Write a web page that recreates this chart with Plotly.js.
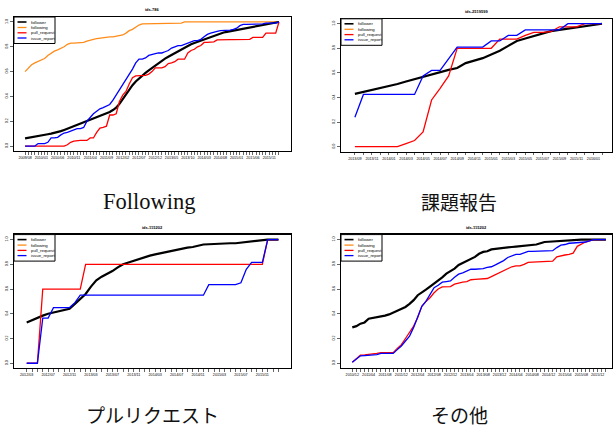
<!DOCTYPE html>
<html><head><meta charset="utf-8">
<script src="https://cdn.plot.ly/plotly-3.0.1.min.js"></script>
<style>html,body{margin:0;padding:0;background:#fff}#chart{width:613px;height:429px}</style>
</head><body><div id="chart"></div>
<script>
// month categories (axis positions only)
function monthSeq(y, m, n) {
  const out = [];
  for (let i = 0; i < n; i++) {
    out.push(y + '/' + (m < 10 ? '0' + m : '' + m));
    m++; if (m > 12) { m = 1; y++; }
  }
  return out;
}
const months1 = monthSeq(2009, 8, 79);   // 2009/08 .. 2016/02
const months2 = monthSeq(2013, 9, 30);   // 2013/09 .. 2016/02
const months3 = monthSeq(2012, 3, 48);   // 2012/03 .. 2016/02
const months4 = monthSeq(2010, 12, 63);  // 2010/12 .. 2016/02

const titles = ['ids-786', 'ids-2519599', 'ids-115202', 'ids-115202'];
const captions = ['Following', '課題報告', 'プルリクエスト', 'その他'];
const seriesNames = ['follower', 'following', 'pull_request', 'issue_report'];
const yTickVals = [0, 0.2, 0.4, 0.6, 0.8, 1.0];
const yTickText = ['0.0', '0.2', '0.4', '0.6', '0.8', '1.0'];

// Panel 1
const follower1 = [.062,.066,.070,.075,.080,.086,.090,.095,.100,.105,
.110,.120,.130,.140,.150,.160,.170,.180,.190,.200,
.210,.220,.230,.240,.250,.260,.275,.290,.310,.340,
.380,.420,.460,.490,.520,.545,.570,.590,.610,.630,
.650,.670,.690,.705,.720,.735,.750,.765,.780,.795,
.810,.820,.830,.840,.850,.860,.870,.880,.890,.900,
.910,.915,.920,.925,.930,.940,.945,.950,.955,.958,
.960,.965,.970,.975,.980,.985,.990,.995,1.0];
const following1 = [.60,.63,.655,.67,.68,.69,.705,.73,.75,.765,
.775,.785,.80,.82,.83,.83,.83,.835,.835,.845,
.855,.86,.865,.87,.87,.875,.88,.88,.885,.89,
.895,.91,.93,.94,.96,.975,.985,.985,.985,.985,
.985,.985,.985,.985,.985,.985,.985,.985,.99,1,
1,1,1,1,1,1,1,1,1,1,
1,1,1,1,1,1,1,1,1,1,
1,1,1,1,1,1,1,1,1];
const pull1 = [0,0,0,0,0,0,0,0,0,0,
0,0,0,.01,.03,.04,.045,.045,.045,.045,
.065,.065,.11,.145,.15,.16,.25,.25,.26,.36,
.41,.44,.50,.55,.565,.565,.57,.57,.58,.60,
.63,.63,.63,.64,.665,.67,.68,.70,.70,.70,
.75,.77,.78,.80,.81,.835,.835,.835,.84,.855,
.857,.857,.857,.857,.857,.857,.857,.857,.857,.86,
.876,.876,.876,.876,.91,.91,.91,.91,1];
const issue1 = [0,0,0,0,.02,.02,.02,.03,.065,.065,
.07,.09,.105,.11,.12,.13,.14,.14,.15,.20,
.23,.26,.28,.30,.31,.32,.335,.37,.41,.46,
.49,.53,.57,.62,.67,.70,.70,.71,.73,.74,
.745,.75,.75,.76,.77,.79,.80,.81,.81,.82,
.83,.845,.85,.85,.86,.88,.90,.91,.92,.925,
.93,.93,.93,.935,.94,.95,.97,.98,.98,.98,
.98,.985,.985,.985,.99,.99,.99,.99,1];

// Panel 2
const follower2 = [.43,.445,.46,.48,.495,.51,.53,.55,.57,.59,
.61,.625,.64,.68,.70,.72,.75,.78,.82,.86,
.88,.90,.92,.94,.95,.96,.975,.985,.995,1.0];
const pull2 = [0,0,0,0,0,0,.025,.05,.12,.38,
.475,.575,.80,.80,.80,.80,.80,.875,.875,.875,
.905,.93,.93,.935,.975,.975,.975,1,1,1];
const issue2 = [.24,.425,.425,.425,.425,.425,.425,.425,.575,.62,
.62,.72,.81,.81,.81,.81,.86,.86,.905,.905,
.95,.95,.95,.95,.95,1,1,1,1,1];

// Panel 3
const follower3 = [.33,.35,.37,.385,.40,.41,.42,.43,.44,.48,
.52,.56,.62,.67,.70,.72,.745,.775,.80,.815,
.83,.845,.86,.87,.88,.89,.90,.91,.92,.925,
.935,.94,.95,.96,.962,.965,.965,.967,.97,.97,
.975,.985,.99,.995,1,1,1,1];
const pull3 = [0,0,0,.60,.60,.60,.60,.60,.60,.60,
.60,.80,.80,.80,.80,.80,.80,.80,.80,.80,
.80,.80,.80,.80,.80,.80,.80,.80,.80,.80,
.80,.80,.80,.80,.80,.80,.80,.80,.80,.80,
.80,.80,.80,.80,.80,1,1,1];
const issue3 = [0,0,0,.365,.365,.45,.45,.45,.45,.49,
.55,.55,.55,.55,.55,.55,.55,.55,.55,.55,
.55,.55,.55,.55,.55,.55,.55,.55,.55,.55,
.55,.55,.55,.55,.635,.635,.635,.635,.635,.635,
.65,.76,.815,.815,.815,1,1,1];

// Panel 4
const follower4 = [.29,.30,.32,.33,.36,.365,.375,.38,.385,.395,
.41,.43,.44,.455,.48,.51,.55,.57,.595,.62,
.645,.665,.695,.725,.745,.765,.795,.81,.825,.845,
.86,.885,.90,.905,.92,.925,.93,.933,.936,.94,
.943,.946,.95,.955,.957,.96,.97,.98,.982,.985,
.988,.99,.992,.995,.997,1,1,1,1,1,
1,1,1];
const pull4 = [.008,.04,.065,.068,.07,.075,.08,.085,.085,.085,
.085,.12,.15,.20,.25,.30,.37,.46,.50,.53,
.57,.60,.617,.617,.62,.64,.65,.655,.66,.675,
.678,.68,.682,.685,.70,.715,.73,.75,.765,.78,
.787,.787,.80,.815,.818,.82,.82,.822,.823,.825,
.86,.87,.875,.88,.89,.945,.965,.98,.99,1,
1,1,1];
const issue4 = [.008,.035,.06,.062,.064,.065,.07,.08,.08,.08,
.08,.11,.14,.18,.22,.29,.37,.46,.50,.55,
.61,.63,.655,.66,.665,.695,.72,.73,.745,.76,
.76,.762,.765,.775,.78,.795,.81,.83,.855,.87,
.88,.88,.89,.905,.905,.906,.907,.908,.909,.91,
.935,.955,.96,.97,.972,.975,.977,.98,.99,1,
1,1,1];

const COLORS = {follower: '#000000', following: '#FF8C1A', pull_request: '#FF0000', issue_report: '#0000FF'};
const W = 613, H = 429;
const px = v => v / W, py = v => 1 - v / H;

function tr(x, y, name, ax) {
  return {type: 'scatter', mode: 'lines', x: x, y: y, name: name,
    xaxis: 'x' + ax, yaxis: 'y' + ax, showlegend: false,
    line: {color: COLORS[name], width: name === 'follower' ? 2.2 : 1.3}};
}
const data = [
  tr(months1, following1, 'following', ''),
  tr(months1, follower1, 'follower', ''),
  tr(months1, pull1, 'pull_request', ''),
  tr(months1, issue1, 'issue_report', ''),
  tr(months2, follower2, 'follower', '2'),
  tr(months2, pull2, 'pull_request', '2'),
  tr(months2, issue2, 'issue_report', '2'),
  tr(months3, follower3, 'follower', '3'),
  tr(months3, pull3, 'pull_request', '3'),
  tr(months3, issue3, 'issue_report', '3'),
  tr(months4, follower4, 'follower', '4'),
  tr(months4, pull4, 'pull_request', '4'),
  tr(months4, issue4, 'issue_report', '4')
];

// plot boxes in pixels [left, top, right, bottom]
const boxes = [[14, 17, 291, 151], [341, 18.8, 612, 151.6], [14, 234.6, 291, 368.2], [341, 234.6, 612, 368.2]];
const monthSets = [months1, months2, months3, months4];
const labelStep = [5, 2, 4, 4];
const xRanges = [[-3.4, 81.7], [-1.63, 30.17], [-2.37, 49.35], [-2.76, 63.5]];

const tickFont = {family: 'Liberation Sans, Arial, sans-serif', size: 3.7, color: '#000'};
const layout = {
  width: W, height: H, autosize: false,
  margin: {l: 0, r: 0, t: 0, b: 0},
  paper_bgcolor: '#fff', plot_bgcolor: '#fff',
  showlegend: false, shapes: [], annotations: []
};
boxes.forEach((b, i) => {
  const s = i === 0 ? '' : String(i + 1);
  const ms = monthSets[i];
  layout['xaxis' + s] = {
    type: 'category', domain: [px(b[0]), px(b[2])], anchor: 'y' + s,
    range: xRanges[i], tickmode: 'array', tickvals: ms,
    ticktext: ms.map((m, k) => k % labelStep[i] === 0 ? m : ''),
    ticks: 'outside', ticklen: 2.5, tickwidth: 0.6, tickcolor: '#000',
    tickangle: 0, tickfont: tickFont, showgrid: false, zeroline: false,
    showline: true, mirror: true, linecolor: '#000', linewidth: 1.2, fixedrange: true
  };
  layout['yaxis' + s] = {
    domain: [py(b[3]), py(b[1])], anchor: 'x' + s, range: [-0.04, 1.04],
    tickmode: 'array', tickvals: yTickVals, ticktext: yTickText,
    ticks: 'outside', ticklen: 3, tickwidth: 0.6, tickcolor: '#000',
    tickangle: -90, tickfont: tickFont, showgrid: false, zeroline: false,
    showline: true, mirror: true, linecolor: '#000', linewidth: 1.2, fixedrange: true
  };
  // title
  layout.annotations.push({xref: 'paper', yref: 'paper', x: px((b[0] + b[2]) / 2), y: py(b[1] - 7),
    text: '<b>' + titles[i] + '</b>', showarrow: false, xanchor: 'center', yanchor: 'middle',
    font: {family: 'Liberation Sans, Arial, sans-serif', size: 4, color: '#000'}});
  // legend
  const lx = b[0], ly = b[1];
  layout.shapes.push({type: 'rect', xref: 'paper', yref: 'paper', x0: px(lx), x1: px(lx + 41),
    y0: py(ly), y1: py(ly + 26.5), line: {color: '#000', width: 1}, fillcolor: '#fff', layer: 'above'});
  const rows = [5, 10.5, 15.8, 21];
  seriesNames.forEach((n, k) => {
    layout.shapes.push({type: 'line', xref: 'paper', yref: 'paper', x0: px(lx + 3.5), x1: px(lx + 12.5),
      y0: py(ly + rows[k]), y1: py(ly + rows[k]), layer: 'above',
      line: {color: COLORS[n], width: n === 'follower' ? 1.6 : 1.3}});
    layout.annotations.push({xref: 'paper', yref: 'paper', x: px(lx + 15), y: py(ly + rows[k]),
      text: n, showarrow: false, xanchor: 'left', yanchor: 'middle',
      font: {family: 'Liberation Sans, Arial, sans-serif', size: 4.3, color: '#000'}});
  });
});
// captions
const capPos = [[149, 201], [459, 201], [152, 414], [459, 414]];
captions.forEach((c, i) => {
  layout.annotations.push({xref: 'paper', yref: 'paper', x: px(capPos[i][0]), y: py(capPos[i][1]),
    text: c, showarrow: false, xanchor: 'center', yanchor: 'middle',
    font: {family: i === 0 ? 'Liberation Serif, serif' : 'Noto Sans CJK JP, sans-serif',
      size: i === 0 ? 22.5 : 19, color: '#111'}});
});

Plotly.newPlot('chart', data, layout, {displayModeBar: false, staticPlot: true});
</script>
</body></html>
